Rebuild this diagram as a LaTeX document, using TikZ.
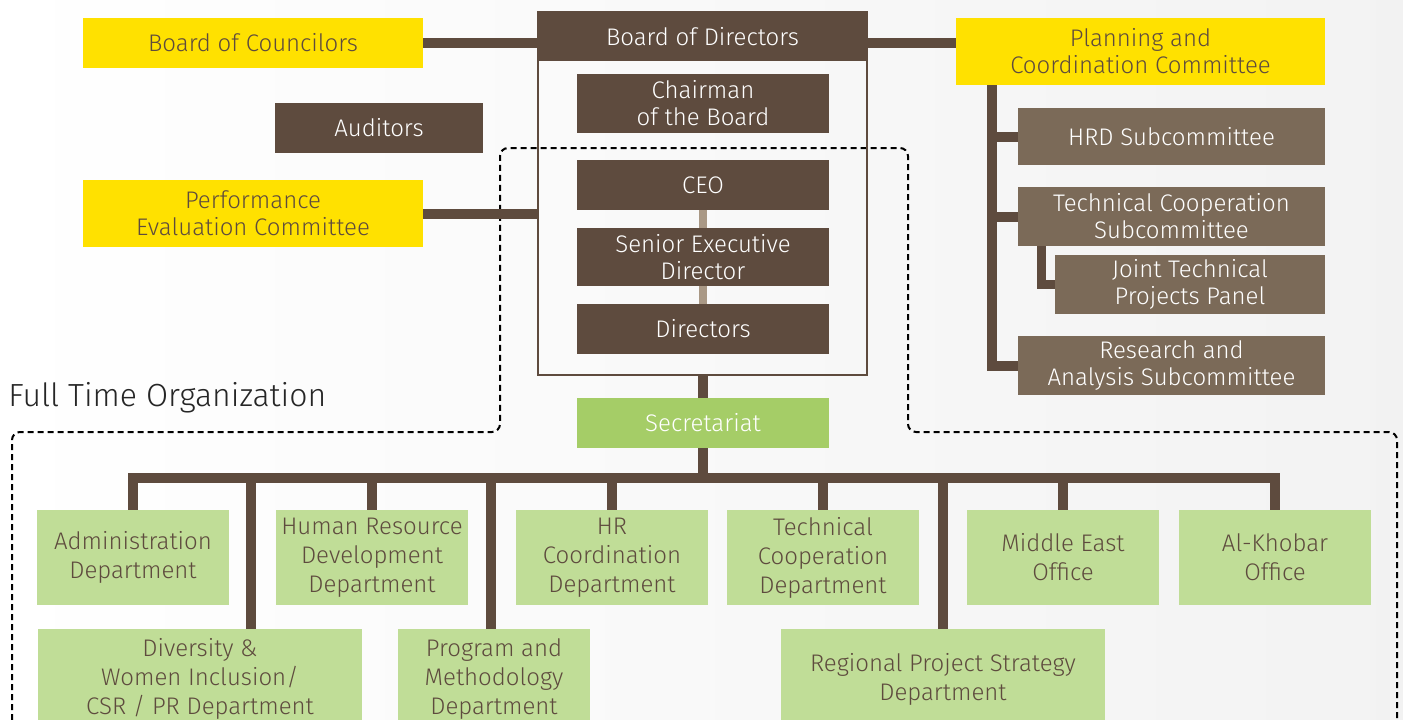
\documentclass[tikz,border=0pt]{standalone}
\usepackage{fontspec}
\setmainfont{Fira Sans}[UprightFont=* Light]
\usetikzlibrary{positioning}

\definecolor{darkbrown}{HTML}{5E4B3E}
\definecolor{subbrown}{HTML}{7B6A58}
\definecolor{linkbrown}{HTML}{A99885}
\definecolor{boardyellow}{HTML}{FFE100}
\definecolor{deptgreen}{HTML}{C0DD97}
\definecolor{secgreen}{HTML}{A5CD67}

\tikzset{
    unit/.style={inner sep=0pt, align=center, font=\fontsize{12}{13.5}\selectfont},
    board/.style={unit, fill=darkbrown, text=white},
    committee/.style={unit, fill=boardyellow, text=darkbrown},
    subcom/.style={unit, fill=subbrown, text=white},
    dept/.style={unit, fill=deptgreen, text=darkbrown, font=\fontsize{12}{14.5}\selectfont},
    link/.style={darkbrown, line width=5pt},
}

\begin{document}
\begin{tikzpicture}[x=0.5pt,y=-0.5pt]

    % Fond
    \clip (0,0) rectangle (1403,719);
    \shade[left color=white, right color=black!5] (0,0) rectangle (1403,719);

    % Cadre pointille
    \draw[line width=1pt, dash pattern=on 3pt off 2pt, rounded corners=4pt]
        (12,730) -- (12,432) -- (500,432) -- (500,148) -- (908,148)
        -- (908,432) -- (1397,432) -- (1397,730);
    \node[anchor=west, inner sep=0pt, font=\fontsize{16}{19}\selectfont, text=black!85] (fto) at (8,398) {Full Time Organization};

    % ---- Conseil ----
    \draw[darkbrown, line width=1pt] (538,12) rectangle (867,375);
    \coordinate (framebottom) at (703,375);
    \node[board, minimum width=164.5pt, minimum height=24.5pt] (bod) at (702.5,36.5) {Board of Directors};
    \node[board, minimum width=126pt, minimum height=29.5pt] (chairman) at (703,103.5) {Chairman\\of the Board};
    \node[board, minimum width=126pt, minimum height=25pt] (ceo) at (703,185) {CEO};
    \node[board, minimum width=126pt, minimum height=29pt] (sed) at (703,257) {Senior Executive\\Director};
    \node[board, minimum width=126pt, minimum height=25pt] (directors) at (703,329) {Directors};
    \node[board, minimum width=104pt, minimum height=25pt] (auditors) at (379,128) {Auditors};

    \node[committee, minimum width=170pt, minimum height=25pt] (councilors) at (253,43) {Board of Councilors};
    \node[committee, minimum width=170pt, minimum height=33.5pt] (perf) at (253,213.5) {Performance\\Evaluation Committee};
    \node[committee, minimum width=184.5pt, minimum height=33.5pt] (planning) at (1140.5,51.5) {Planning and\\Coordination Committee};

    \draw[link] (councilors.east) -- (councilors.east -| bod.west);
    \draw[link] (bod.east |- councilors.east) -- (planning.west |- councilors.east);
    \draw[link] (perf.east) -- (perf.east -| bod.west);
    \draw[linkbrown, line width=4pt] (ceo.south) -- (sed.north);
    \draw[linkbrown, line width=4pt] (sed.south) -- (directors.north);

    % ---- Sous-comites ----
    \node[subcom, minimum width=153.5pt, minimum height=28.5pt] (hrdsub) at (1171.5,136.5) {HRD Subcommittee};
    \node[subcom, minimum width=153.5pt, minimum height=29.5pt] (tcsub) at (1171.5,216.5) {Technical Cooperation\\Subcommittee};
    \node[subcom, minimum width=135pt, minimum height=29.5pt] (jtpp) at (1190,284.5) {Joint Technical\\Projects Panel};
    \node[subcom, minimum width=153.5pt, minimum height=29.5pt] (rasub) at (1171.5,365.5) {Research and\\Analysis Subcommittee};

    \coordinate (trunk) at (992,0);
    \coordinate (jtap) at (1041,0);
    \draw[link] (planning.south -| trunk) |- (rasub.west);
    \draw[link] (trunk |- hrdsub.west) -- (hrdsub.west);
    \draw[link] (trunk |- tcsub.west) -- (tcsub.west);
    \draw[link, line width=4.5pt] (tcsub.south -| jtap) |- (jtpp.west);

    % ---- Secretariat ----
    \node[unit, fill=secgreen, text=white, minimum width=126pt, minimum height=25pt] (secretariat) at (703,423) {Secretariat};
    \draw[link] (framebottom) -- (secretariat.north);
    \coordinate (bus) at (703,478);
    \draw[link] (secretariat.south) -- (bus);
    \draw[link] (128,478) -- (1280,478);

    % Departements, premiere rangee
    \node[dept, minimum width=96pt, minimum height=47.5pt] (admin) at (133,557.5) {Administration\\Department};
    \node[dept, minimum width=96pt, minimum height=47.5pt] (hrdept) at (372,557.5) {Human Resource\\Development\\Department};
    \node[dept, minimum width=96pt, minimum height=47.5pt] (hrcoord) at (612,557.5) {HR\\Coordination\\Department};
    \node[dept, minimum width=96pt, minimum height=47.5pt] (techdept) at (823,557.5) {Technical\\Cooperation\\Department};
    \node[dept, minimum width=96pt, minimum height=47.5pt] (mideast) at (1063,557.5) {Middle East\\Office};
    \node[dept, minimum width=96pt, minimum height=47.5pt] (alkhobar) at (1275,557.5) {Al-Khobar\\Office};
    \foreach \d in {admin,hrdept,hrcoord,techdept,mideast,alkhobar}{
        \draw[link] (\d.north) -- ++(0,-37);
    }

    % Departements, deuxieme rangee
    \node[dept, minimum width=162pt, minimum height=50pt] (diversity) at (200,679) {Diversity \&\\Women Inclusion/\\CSR / PR Department};
    \node[dept, minimum width=96pt, minimum height=50pt] (program) at (494,679) {Program and\\Methodology\\Department};
    \node[dept, minimum width=162pt, minimum height=50pt] (regional) at (943,679) {Regional Project Strategy\\Department};

    \coordinate (divtap) at (251,473);
    \coordinate (progtap) at (491,473);
    \coordinate (regtap) at (943,473);
    \draw[link] (divtap) -- (divtap |- diversity.north);
    \draw[link] (progtap) -- (progtap |- program.north);
    \draw[link] (regtap) -- (regional.north);

\end{tikzpicture}
\end{document}
